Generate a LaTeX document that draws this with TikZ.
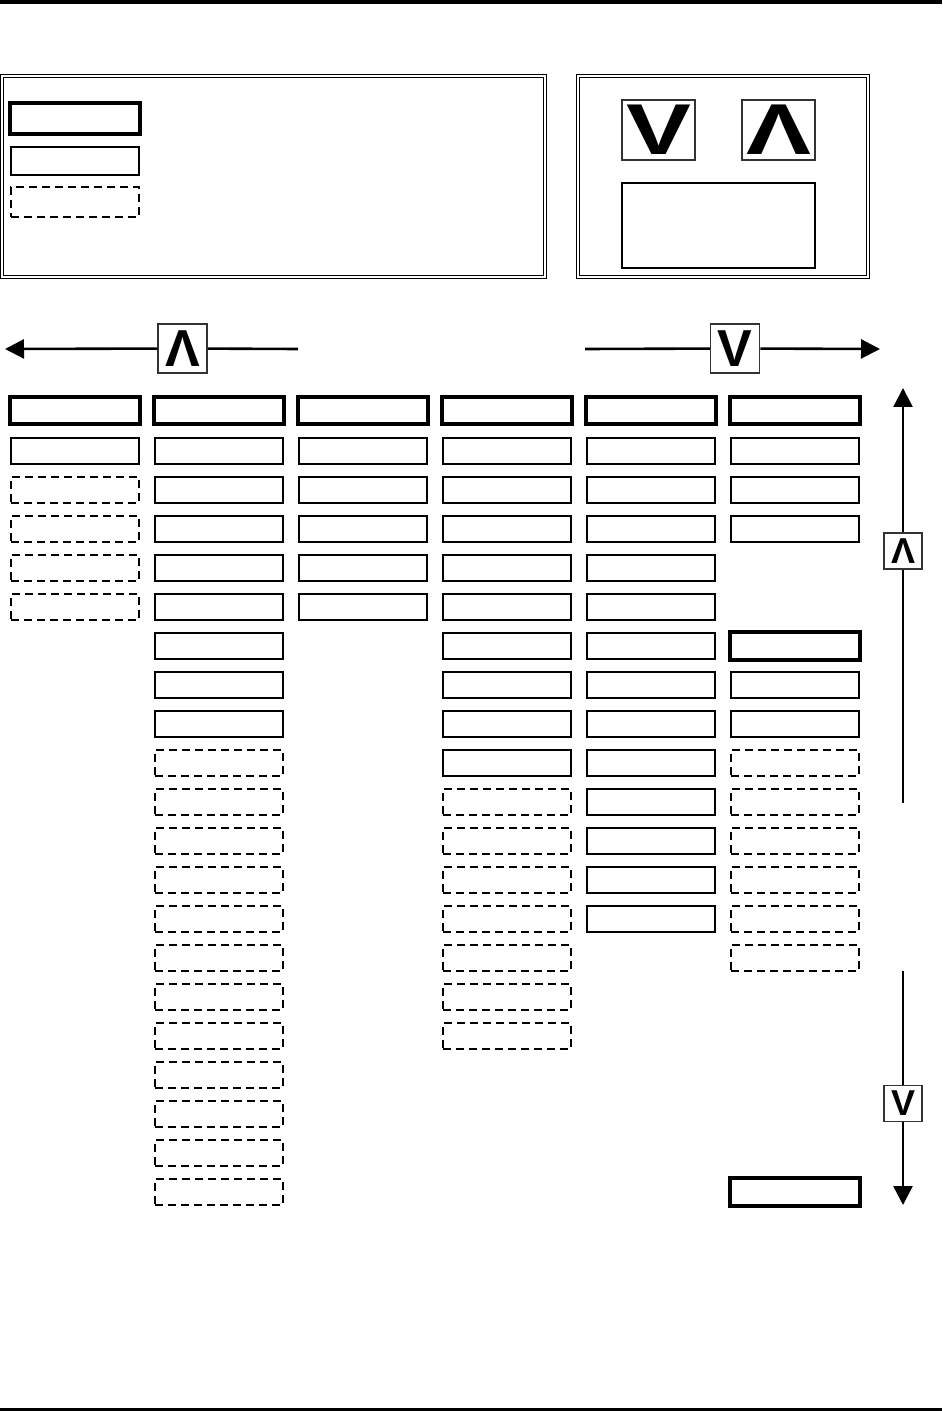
\documentclass[tikz,border=0pt]{standalone}
\usepackage{fontspec}
\usetikzlibrary{arrows.meta}
\newfontfamily\keyfont{Liberation Sans}

\begin{document}
\begin{tikzpicture}[x=0.5pt,y=-0.5pt,
  cell/.style={draw,line width=1.2pt,minimum width=64pt,minimum height=13pt,inner sep=0pt},
  dashcell/.style={cell,line width=1.4pt,dash pattern=on 4pt off 2.5pt},
  headcell/.style={cell,line width=2pt,minimum width=65pt,minimum height=13.5pt},
  keybox/.style={draw=black!80,line width=0.75pt,inner sep=0pt,font=\keyfont\bfseries},
  panel/.style={draw,double,line width=0.5pt,double distance=0.8pt},
  arrowline/.style={line width=1.3pt},
  tip/.style={-{Triangle[length=9.5pt,width=9.5pt]}}]
  \useasboundingbox (0,0) rectangle (942,1411);

  % page rules
  \fill (0,0) rectangle (942,4.5);
  \fill (0,1408) rectangle (942,1411);

  % legend panels
  \draw[panel] (2,76) rectangle (545,277);
  \node[headcell,minimum height=15.5pt] (keyhead) at (75,118.5) {};
  \node[cell,minimum height=14pt] (keycell) at (75,161) {};
  \node[dashcell,minimum height=15pt] (keydash) at (75,202) {};

  \draw[panel] (578,76) rectangle (868,277);
  \node[keybox,minimum width=36.5pt,minimum height=30pt,font=\keyfont\bfseries\fontsize{36}{36}\selectfont] (keydown) at (658.5,130) {\scalebox{1.35}[1]{V}};
  \node[keybox,minimum width=36.5pt,minimum height=30pt,font=\keyfont\bfseries\fontsize{36}{36}\selectfont] (keyup) at (778.5,130) {\scalebox{1.35}[1]{Λ}};
  \node[draw,line width=0.75pt,minimum width=96.5pt,minimum height=42.5pt,inner sep=0pt] (keynote) at (718.5,225.5) {};

  % horizontal direction arrows
  \coordinate (lstart) at (298,349);
  \coordinate (ltip) at (5,349);
  \node[keybox,minimum size=24.5pt,font=\keyfont\bfseries\fontsize{26}{26}\selectfont] (upL) at (182.5,348.5) {Λ};
  \draw[arrowline] (lstart) -- (upL);
  \draw[arrowline,tip] (upL) -- (ltip);

  \coordinate (rstart) at (585,349);
  \coordinate (rtip) at (880,349);
  \node[keybox,minimum size=24.5pt,font=\keyfont\bfseries\fontsize{26}{26}\selectfont] (downR) at (735,348.5) {V};
  \draw[arrowline] (rstart) -- (downR);
  \draw[arrowline,tip] (downR) -- (rtip);

  % vertical direction arrows
  \coordinate (ustart) at (903,803);
  \coordinate (utip) at (903,388);
  \node[keybox,minimum width=19pt,minimum height=18pt,font=\keyfont\bfseries\fontsize{18}{18}\selectfont] (upV) at (903,551) {Λ};
  \draw[arrowline] (ustart) -- (upV);
  \draw[arrowline,tip] (upV) -- (utip);

  \coordinate (dstart) at (903,971);
  \coordinate (dtip) at (903,1205);
  \node[keybox,minimum width=19pt,minimum height=18pt,font=\keyfont\bfseries\fontsize{18}{18}\selectfont] (downV) at (903,1103.5) {V};
  \draw[arrowline] (dstart) -- (downV);
  \draw[arrowline,tip] (downV) -- (dtip);

  % column heads
  \foreach \c/\x in {1/75,2/219,3/363,4/507,5/651,6/795}{
    \node[headcell] (c\c h) at (\x,410.5) {};
  }

  % solid cells
  \foreach \c/\x/\from/\to in {1/75/1/1, 2/219/1/8, 3/363/1/5, 4/507/1/9, 5/651/1/13, 6/795/1/3, 6/795/7/8}{
    \foreach \r in {\from,...,\to}
      \node[cell] (c\c r\r) at (\x,{451+39*(\r-1)}) {};
  }

  % dashed cells
  \foreach \c/\x/\from/\to in {1/75/2/5, 2/219/9/20, 4/507/10/16, 6/795/9/14}{
    \foreach \r in {\from,...,\to}
      \node[dashcell] (c\c r\r) at (\x,{451+39*(\r-1)}) {};
  }

  % heavy cells
  \node[headcell,minimum height=14pt] (c6r6) at (795,646) {};
  \node[headcell,minimum height=14pt] (c6r20) at (795,1192) {};
\end{tikzpicture}
\end{document}
